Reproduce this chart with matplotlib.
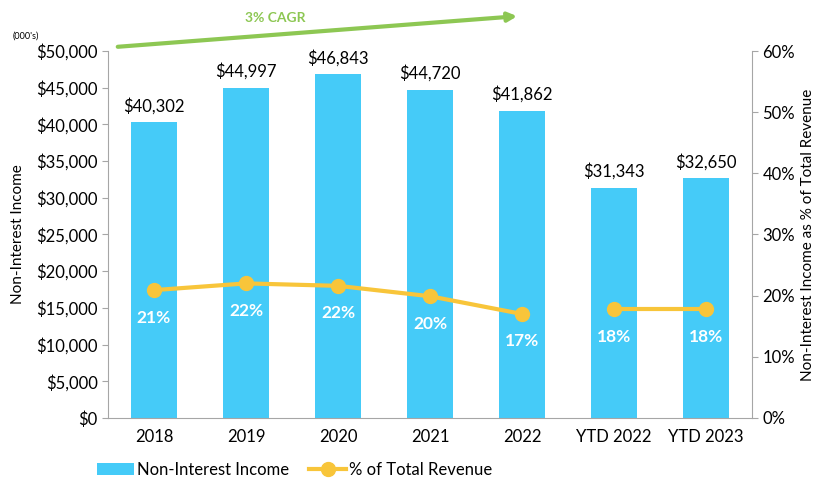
import numpy as np
import matplotlib.pyplot as plt
from matplotlib.ticker import FuncFormatter

plt.rcParams['font.family'] = ['Lato', 'DejaVu Sans']

years = ["2018", "2019", "2020", "2021", "2022", "YTD 2022", "YTD 2023"]
income = [40302, 44997, 46843, 44720, 41862, 31343, 32650]
pct = [20.9, 22.0, 21.6, 19.9, 17.0, 17.8, 17.8]
pct_labels = ["21%", "22%", "22%", "20%", "17%", "18%", "18%"]

bar_col = "#45CBF8"
line_col = "#F8C53A"
green = "#8DC753"
gray = "#A6A6A6"

fig = plt.figure(figsize=(8.21, 4.82), dpi=100)
ax = fig.add_axes([0.1315, 0.133, 0.7845, 0.761])
x = np.arange(len(years))

ax.bar(x, income, width=0.51, color=bar_col, label="Non-Interest Income", zorder=2)
for i, v in enumerate(income):
    ax.text(i, v + 1100, f"${v:,}", ha="center", va="bottom", fontsize=12)

ax.set_xlim(-0.5, 6.5)
ax.set_ylim(0, 50000)
ax.set_yticks(np.arange(0, 50001, 5000))
ax.yaxis.set_major_formatter(FuncFormatter(lambda v, p: f"${v:,.0f}"))
ax.set_xticks(x)
ax.set_xticklabels(years)
ax.tick_params(axis="both", labelsize=12, colors="black")
ax.tick_params(axis="y", color=gray, length=4)
ax.tick_params(axis="x", length=0, pad=8)
ax.set_ylabel("Non-Interest Income", fontsize=11, labelpad=8)
ax.spines["top"].set_visible(False)
ax.spines["right"].set_visible(False)
for s in ["left", "bottom"]:
    ax.spines[s].set_color(gray)

ax2 = ax.twinx()
ax2.plot(x[:5], pct[:5], color=line_col, lw=3, marker="o", ms=10, zorder=3,
         label="% of Total Revenue")
ax2.plot(x[5:], pct[5:], color=line_col, lw=3, marker="o", ms=10, zorder=3)
for i, (v, t) in enumerate(zip(pct, pct_labels)):
    ax2.text(i, v - 4.5, t, ha="center", va="center", fontsize=12.5,
             color="white", fontweight="bold")
ax2.set_ylim(0, 60)
ax2.set_yticks(np.arange(0, 61, 10))
ax2.yaxis.set_major_formatter(FuncFormatter(lambda v, p: f"{v:.0f}%"))
ax2.tick_params(axis="y", labelsize=12, color=gray, length=4)
ax2.set_ylabel("Non-Interest Income as % of Total Revenue", fontsize=11)
ax2.spines["top"].set_visible(False)
ax2.spines["left"].set_visible(False)
ax2.spines["bottom"].set_visible(False)
ax2.spines["right"].set_color(gray)

fig.text(0.015, 0.92, "(000's)", fontsize=6.5)

ax.annotate("", xy=(520 / 821, 1 - 16 / 482), xytext=(115 / 821, 1 - 47 / 482),
            xycoords="figure fraction", textcoords="figure fraction",
            arrowprops=dict(arrowstyle="-|>", color=green, lw=3, mutation_scale=13))
fig.text(275 / 821, 1 - 18 / 482, "3% CAGR", color=green, fontsize=10,
         fontweight="bold", ha="center", va="center")

h1, l1 = ax.get_legend_handles_labels()
h2, l2 = ax2.get_legend_handles_labels()
fig.legend(h1 + h2, l1 + l2, loc="center", bbox_to_anchor=(295 / 821, 1 - 470 / 482),
           ncol=2, frameon=False, fontsize=12, handlelength=2.2, columnspacing=1.2,
           handletextpad=0.2)

fig.savefig("out.png", dpi=100)
